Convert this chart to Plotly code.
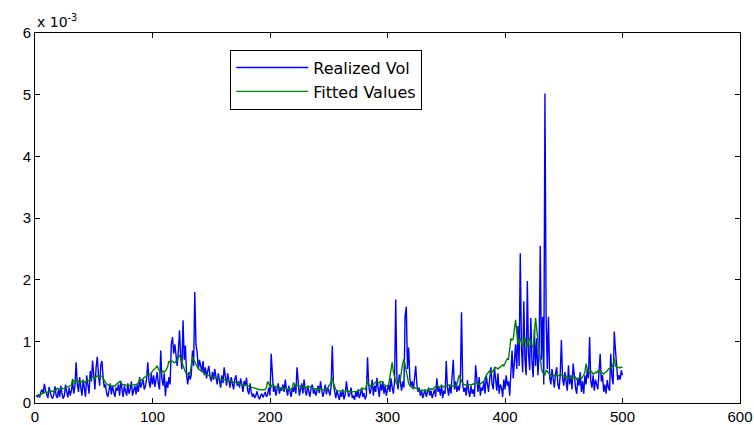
import plotly.graph_objects as go

# Realized volatility and fitted values, in units of 1e-3
realized_vol = [
    0.12, 0.10, 0.14, 0.09, 0.18, 0.22, 0.15, 0.31, 0.20, 0.12,
    0.08, 0.26, 0.16, 0.10, 0.07, 0.14, 0.27, 0.12, 0.08, 0.22,
    0.10, 0.28, 0.15, 0.07, 0.12, 0.30, 0.18, 0.09, 0.25, 0.12,
    0.20, 0.35, 0.15, 0.28, 0.66, 0.30, 0.18, 0.42, 0.25, 0.12,
    0.38, 0.20, 0.10, 0.45, 0.28, 0.15, 0.52, 0.35, 0.69, 0.40,
    0.22, 0.58, 0.75, 0.45, 0.28, 0.62, 0.68, 0.40, 0.25, 0.30,
    0.15, 0.10, 0.22, 0.32, 0.14, 0.28, 0.18, 0.10, 0.25, 0.20,
    0.30, 0.12, 0.36, 0.22, 0.10, 0.28, 0.18, 0.12, 0.32, 0.15,
    0.22, 0.35, 0.12, 0.20, 0.28, 0.14, 0.30, 0.18, 0.42, 0.25,
    0.30, 0.38, 0.22, 0.28, 0.40, 0.66, 0.35, 0.25, 0.48, 0.30,
    0.45, 0.26, 0.38, 0.50, 0.30, 0.22, 0.85, 0.40, 0.28, 0.48,
    0.11, 0.35, 0.25, 0.42, 0.30, 0.95, 1.07, 0.80, 0.95, 0.70,
    0.60, 0.85, 1.18, 0.75, 0.55, 1.34, 0.70, 0.93, 0.45, 0.30,
    0.50, 0.38, 0.45, 0.85, 0.60, 1.80, 0.95, 0.82, 0.55, 0.70,
    0.62, 0.50, 0.68, 0.45, 0.58, 0.40, 0.52, 0.60, 0.42, 0.35,
    0.50, 0.38, 0.55, 0.42, 0.30, 0.48, 0.36, 0.25, 0.45, 0.32,
    0.58, 0.40, 0.28, 0.48, 0.35, 0.25, 0.42, 0.30, 0.22, 0.38,
    0.45, 0.28, 0.35, 0.25, 0.40, 0.30, 0.18, 0.36, 0.28, 0.41,
    0.20, 0.14, 0.32, 0.18, 0.10, 0.15, 0.08, 0.12, 0.19, 0.10,
    0.06, 0.12, 0.15, 0.09, 0.13, 0.18, 0.10, 0.14, 0.25, 0.12,
    0.80, 0.35, 0.18, 0.28, 0.12, 0.22, 0.32, 0.15, 0.25, 0.20,
    0.30, 0.18, 0.38, 0.22, 0.12, 0.28, 0.20, 0.10, 0.25, 0.18,
    0.30, 0.15, 0.58, 0.25, 0.12, 0.22, 0.32, 0.15, 0.38, 0.20,
    0.12, 0.28, 0.18, 0.10, 0.25, 0.30, 0.15, 0.22, 0.12, 0.20,
    0.28, 0.16, 0.35, 0.22, 0.10, 0.18, 0.30, 0.14, 0.25, 0.20,
    0.12, 0.28, 0.93, 0.30, 0.15, 0.08, 0.20, 0.12, 0.05, 0.18,
    0.10, 0.22, 0.06, 0.14, 0.35, 0.20, 0.10, 0.15, 0.25, 0.08,
    0.12, 0.05, 0.18, 0.10, 0.22, 0.08, 0.14, 0.25, 0.10, 0.16,
    0.06, 0.12, 0.74, 0.30, 0.15, 0.22, 0.38, 0.12, 0.28, 0.18,
    0.41, 0.25, 0.10, 0.32, 0.20, 0.35, 0.15, 0.28, 0.12, 0.22,
    0.30, 0.18, 0.40, 0.25, 0.15, 0.35, 1.68, 0.40, 0.22, 0.46,
    0.30, 0.20, 0.35, 0.25, 1.42, 1.56, 0.55, 0.90, 0.40, 0.28,
    0.35, 0.22, 0.40, 0.60, 0.30, 0.18, 0.25, 0.12, 0.20, 0.08,
    0.15, 0.22, 0.10, 0.18, 0.25, 0.12, 0.20, 0.08, 0.15, 0.22,
    0.10, 0.40, 0.18, 0.25, 0.12, 0.30, 0.08, 0.20, 0.15, 0.68,
    0.25, 0.12, 0.30, 0.15, 0.45, 0.70, 0.22, 0.35, 0.18, 0.28,
    0.20, 0.35, 1.47, 0.30, 0.18, 0.25, 0.12, 0.37, 0.20, 0.10,
    0.28, 0.15, 0.22, 0.10, 0.61, 0.30, 0.18, 0.42, 0.12, 0.25,
    0.20, 0.35, 0.15, 0.45, 0.28, 0.18, 0.40, 0.58, 0.30, 0.22,
    0.58, 0.35, 0.20, 0.48, 0.15, 0.30, 0.25, 0.10, 0.38, 0.22,
    0.45, 0.28, 0.35, 0.12, 0.50, 0.85, 0.40, 0.70, 0.95, 0.55,
    1.25, 0.60, 2.43, 0.90, 0.50, 1.65, 0.70, 0.45, 1.98, 0.80,
    0.53, 1.38, 0.65, 0.42, 1.20, 0.60, 1.05, 0.45, 0.80, 2.55,
    0.70, 1.40, 0.30, 5.02, 1.40, 0.55, 1.40, 0.42, 0.30, 0.55,
    0.38, 0.25, 0.48, 0.58, 0.30, 0.22, 0.45, 1.02, 0.40, 0.28,
    0.50, 0.35, 0.20, 0.61, 0.30, 0.45, 0.22, 0.64, 0.38, 0.25,
    0.15, 0.40, 0.28, 0.50, 0.18, 0.35, 0.15, 0.45, 0.30, 0.55,
    0.40, 1.07, 0.35, 0.25, 0.45, 0.20, 0.38, 0.30, 0.22, 0.50,
    0.80, 0.35, 0.45, 0.18, 0.30, 0.15, 0.37, 0.25, 0.20, 0.80,
    0.42, 0.30, 1.16, 0.86, 0.55, 0.37, 0.45, 0.38, 0.53, 0.45,
]

fitted_values = [
    0.12, 0.12, 0.13, 0.13, 0.14, 0.15, 0.15, 0.17, 0.18, 0.17,
    0.17, 0.18, 0.19, 0.19, 0.18, 0.19, 0.20, 0.21, 0.24, 0.23,
    0.22, 0.23, 0.24, 0.23, 0.24, 0.25, 0.26, 0.26, 0.27, 0.28,
    0.29, 0.39, 0.34, 0.31, 0.36, 0.38, 0.34, 0.33, 0.35, 0.34,
    0.36, 0.35, 0.33, 0.36, 0.37, 0.36, 0.39, 0.40, 0.42, 0.41,
    0.40, 0.42, 0.44, 0.43, 0.42, 0.44, 0.43, 0.40, 0.36, 0.33,
    0.31, 0.29, 0.28, 0.29, 0.28, 0.27, 0.28, 0.27, 0.30, 0.31,
    0.33, 0.35, 0.33, 0.31, 0.29, 0.30, 0.29, 0.28, 0.29, 0.28,
    0.29, 0.30, 0.29, 0.29, 0.30, 0.30, 0.31, 0.33, 0.38, 0.36,
    0.38, 0.40, 0.42, 0.43, 0.44, 0.46, 0.45, 0.47, 0.50, 0.52,
    0.54, 0.56, 0.58, 0.60, 0.55, 0.50, 0.48, 0.50, 0.52, 0.50,
    0.52, 0.55, 0.60, 0.68, 0.66, 0.67, 0.68, 0.66, 0.65, 0.68,
    0.70, 0.74, 0.78, 0.72, 0.65, 0.60, 0.55, 0.50, 0.48, 0.46,
    0.45, 0.47, 0.60, 0.75, 0.70, 0.66, 0.63, 0.60, 0.56, 0.54,
    0.53, 0.52, 0.50, 0.48, 0.47, 0.46, 0.45, 0.45, 0.44, 0.43,
    0.42, 0.42, 0.41, 0.41, 0.40, 0.40, 0.39, 0.39, 0.38, 0.38,
    0.38, 0.37, 0.37, 0.36, 0.36, 0.35, 0.35, 0.34, 0.34, 0.33,
    0.33, 0.32, 0.32, 0.31, 0.31, 0.30, 0.30, 0.29, 0.30, 0.29,
    0.28, 0.27, 0.27, 0.26, 0.25, 0.25, 0.24, 0.23, 0.23, 0.22,
    0.22, 0.21, 0.21, 0.22, 0.21, 0.22, 0.25, 0.35, 0.30, 0.27,
    0.26, 0.30, 0.28, 0.27, 0.26, 0.25, 0.24, 0.25, 0.24, 0.23,
    0.24, 0.23, 0.24, 0.23, 0.22, 0.23, 0.22, 0.22, 0.25, 0.33,
    0.30, 0.27, 0.28, 0.29, 0.27, 0.26, 0.25, 0.26, 0.27, 0.26,
    0.25, 0.26, 0.27, 0.26, 0.25, 0.24, 0.24, 0.23, 0.23, 0.22,
    0.23, 0.22, 0.23, 0.22, 0.22, 0.21, 0.22, 0.22, 0.23, 0.28,
    0.30, 0.35, 0.41, 0.32, 0.26, 0.22, 0.20, 0.20, 0.19, 0.19,
    0.19, 0.19, 0.18, 0.18, 0.20, 0.20, 0.19, 0.19, 0.18, 0.18,
    0.19, 0.18, 0.18, 0.19, 0.19, 0.20, 0.21, 0.23, 0.24, 0.23,
    0.22, 0.28, 0.35, 0.30, 0.28, 0.27, 0.28, 0.30, 0.33, 0.34,
    0.35, 0.34, 0.33, 0.35, 0.34, 0.33, 0.30, 0.29, 0.28, 0.27,
    0.30, 0.45, 0.60, 0.66, 0.50, 0.40, 0.35, 0.30, 0.32, 0.35,
    0.40, 0.55, 0.65, 0.71, 0.60, 0.50, 0.40, 0.32, 0.28, 0.26,
    0.25, 0.24, 0.25, 0.24, 0.23, 0.22, 0.21, 0.20, 0.21, 0.20,
    0.20, 0.21, 0.20, 0.21, 0.20, 0.22, 0.23, 0.22, 0.24, 0.25,
    0.27, 0.28, 0.27, 0.26, 0.27, 0.28, 0.27, 0.26, 0.27, 0.28,
    0.28, 0.29, 0.28, 0.27, 0.27, 0.28, 0.28, 0.27, 0.30, 0.38,
    0.45, 0.40, 0.35, 0.32, 0.30, 0.29, 0.28, 0.28, 0.29, 0.30,
    0.29, 0.30, 0.31, 0.30, 0.32, 0.33, 0.31, 0.30, 0.31, 0.32,
    0.33, 0.35, 0.40, 0.45, 0.48, 0.50, 0.52, 0.48, 0.50, 0.53,
    0.55, 0.58, 0.56, 0.55, 0.57, 0.58, 0.60, 0.62, 0.60, 0.65,
    0.70, 0.72, 0.71, 0.85, 1.05, 1.02, 1.04, 1.20, 1.35, 1.15,
    0.95, 1.00, 1.05, 0.98, 0.92, 1.00, 1.07, 0.95, 0.90, 1.02,
    1.05, 0.95, 0.92, 0.90, 1.10, 1.38, 1.20, 1.00, 0.85, 0.75,
    0.55, 0.50, 0.48, 0.45, 0.53, 0.52, 0.48, 0.46, 0.45, 0.44,
    0.43, 0.45, 0.44, 0.46, 0.45, 0.44, 0.47, 0.46, 0.45, 0.44,
    0.42, 0.43, 0.40, 0.41, 0.40, 0.42, 0.39, 0.41, 0.40, 0.42,
    0.38, 0.40, 0.41, 0.42, 0.40, 0.42, 0.45, 0.50, 0.64, 0.55,
    0.50, 0.48, 0.52, 0.50, 0.47, 0.48, 0.50, 0.49, 0.52, 0.50,
    0.53, 0.50, 0.48, 0.47, 0.49, 0.50, 0.52, 0.55, 0.56, 0.58,
    0.58, 0.62, 0.72, 0.60, 0.58, 0.57, 0.58, 0.57, 0.58, 0.58,
]

obs_index = list(range(1, len(realized_vol) + 1))

x_ticks = [0, 100, 200, 300, 400, 500, 600]
y_ticks = [0, 1, 2, 3, 4, 5, 6]

font_family = "Liberation Sans, Arial, Helvetica, sans-serif"
wide_family = "DejaVu Sans, Liberation Sans, sans-serif"

fig = go.Figure()
fig.add_trace(go.Scatter(
    x=obs_index, y=realized_vol, mode="lines", name="Realized Vol",
    line=dict(color="#0000FF", width=1.4),
))
fig.add_trace(go.Scatter(
    x=obs_index, y=fitted_values, mode="lines", name="Fitted Values",
    line=dict(color="#008000", width=1.4),
))

axis_common = dict(
    showline=True, linecolor="black", linewidth=1, mirror="ticks",
    ticks="inside", ticklen=5, tickcolor="black", showgrid=False,
    zeroline=False, automargin=False,
    tickfont=dict(family=font_family, size=15, color="black"),
)

fig.update_layout(
    width=754, height=425,
    margin=dict(l=35, r=14, t=33, b=22),
    paper_bgcolor="white", plot_bgcolor="white",
    font=dict(family=font_family, size=15, color="black"),
    xaxis=dict(range=[0, 600], tickvals=x_ticks, ticktext=[str(v) for v in x_ticks], **axis_common),
    yaxis=dict(range=[0, 6], tickvals=y_ticks, ticktext=[str(v) for v in y_ticks], **axis_common),
    legend=dict(
        x=0.277, y=0.955, xanchor="left", yanchor="top",
        bgcolor="white", bordercolor="black", borderwidth=1,
        font=dict(family=wide_family, size=16, color="black"),
        tracegroupgap=0, itemwidth=72,
    ),
    showlegend=True,
)

fig.add_annotation(
    xref="paper", yref="paper", x=0.0, y=1.0, xanchor="left", yanchor="bottom",
    text="x 10<sup>-3</sup>", showarrow=False, yshift=1,
    font=dict(family=wide_family, size=14, color="black"),
)

fig.write_html("out.html")
